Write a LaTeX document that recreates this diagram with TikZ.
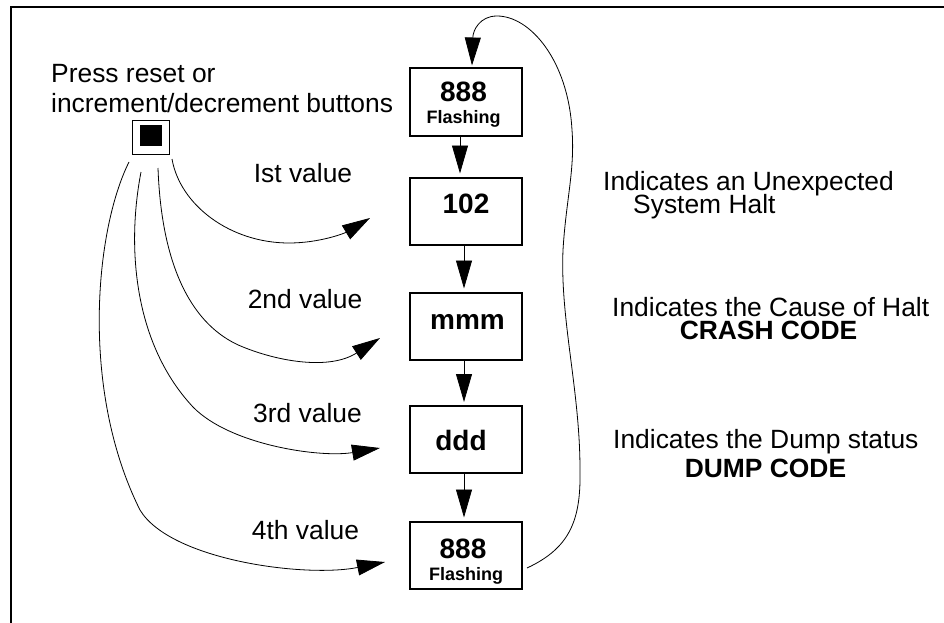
\documentclass[tikz,border=0pt]{standalone}
\usepackage{fontspec}
\setmainfont{Liberation Sans}
\usetikzlibrary{arrows.meta}
\begin{document}
\begin{tikzpicture}[x=1pt,y=-1pt,
  box/.style={draw, line width=2pt, minimum width=112pt, minimum height=67pt, inner sep=0pt},
  txt/.style={font=\fontsize{26.4}{30}\selectfont, inner sep=0pt},
  btxt/.style={font=\fontsize{26.4}{30}\selectfont\bfseries, inner sep=0pt},
  upper/.style={text depth=2pt},
  lower/.style={text height=18pt},
  num/.style={font=\fontsize{28}{30}\selectfont\bfseries, inner sep=0pt, anchor=base},
  flash/.style={font=\fontsize{18}{20}\selectfont\bfseries, inner sep=0pt, anchor=base},
  conn/.style={line width=0.8pt, -{Triangle[length=28pt,width=16pt]}},
]
\useasboundingbox (0,0) rectangle (944,623);
\fill[white] (0,0) rectangle (944,623);
% frame
\draw[line width=2pt] (944,7) -- (11,7) -- (11,623);

% button and its caption
\node[txt, anchor=base west, upper] (cap1) at (51,83) {Press reset or};
\node[txt, anchor=base west, lower] (cap2) at (51,113) {increment/decrement buttons};
\node[draw, line width=0.8pt, minimum width=37pt, minimum height=34pt, inner sep=0pt] (btn) at (151,137) {};
\node[fill=black, minimum width=22pt, minimum height=21pt, inner sep=0pt] (btnin) at (151,135.5) {};

% boxes
\node[box] (b1) at (466,102) {};
\node[box] (b2) at (466,211) {};
\node[box] (b3) at (466,326) {};
\node[box] (b4) at (466,439.5) {};
\node[box] (b5) at (466,555) {};

\node[num] (t1) at (463.5,102) {888};
\node[flash] (f1) at (463.5,124) {Flashing};
\node[num] (t2) at (466,213) {102};
\node[num] (t3) at (467.5,329) {mmm};
\node[num] (t4) at (461,450) {ddd};
\node[num] (t5) at (463,558) {888};
\node[flash] (f5) at (466,580) {Flashing};

% vertical arrows
\draw[conn, shorten >=3pt] ([xshift=-6pt]b1.south) -- ([xshift=-6pt]b2.north);
\draw[conn, shorten >=3pt] ([xshift=-2pt]b2.south) -- ([xshift=-2pt]b3.north);
\draw[conn, shorten >=3pt] ([xshift=-2pt]b3.south) -- ([xshift=-2pt]b4.north);
\draw[conn, shorten >=3pt] ([xshift=-2pt]b4.south) -- ([xshift=-2pt]b5.north);

% value labels
\node[txt, anchor=base] (v1) at (303,182) {Ist value};
\node[txt, anchor=base] (v2) at (305,308) {2nd value};
\node[txt, anchor=base] (v3) at (307.5,422) {3rd value};
\node[txt, anchor=base] (v4) at (305.5,539) {4th value};

% curves from the button
\coordinate (s1) at (172,159);
\coordinate (s2) at (158,168);
\coordinate (s3) at (141,172);
\coordinate (s4) at (129,162);
\coordinate (e1) at ([shift={(-39,7)}]b2.west);
\coordinate (e2) at ([shift={(-29,12)}]b3.west);
\coordinate (e3) at ([shift={(-29,8.5)}]b4.west);
\coordinate (e4) at ([shift={(-24,7)}]b5.west);
\draw[conn] (s1) .. controls (180,205) and (230,243) .. (289,243)
                 .. controls (320,243) and (345,233) .. (e1);
\draw[conn] (s2) .. controls (162,280) and (200,330) .. (243,347)
                 .. controls (280,362) and (330,370) .. (e2);
\draw[conn] (s3) .. controls (126,250) and (135,345) .. (193,407)
                 .. controls (230,445) and (320,458) .. (e3);
\draw[conn] (s4) .. controls (95,230) and (80,390) .. (140,510)
                 .. controls (170,560) and (305,578) .. (e4);

% return loop
\coordinate (r0) at ([shift={(4,13)}]b5.east);
\draw[conn] (r0) .. controls (570,548) and (581,520) .. (580,470)
                 .. controls (580,390) and (560,320) .. (563,250)
                 .. controls (566,200) and (575,170) .. (572,130)
                 .. controls (568,60) and (530,16) .. (497,16)
                 .. controls (480,16) and (473,30) .. ([shift={(6,-2)}]b1.north);

% right-hand descriptions
\node[txt, anchor=base west, upper] (d1a) at (603,190) {Indicates an Unexpected};
\node[txt, anchor=base west, lower] (d1b) at (633,213) {System Halt};
\node[txt, anchor=base west, upper] (d2a) at (612,316) {Indicates the Cause of Halt};
\node[btxt, anchor=base, lower] (d2b) at (768.5,339) {CRASH CODE};
\node[txt, anchor=base west, upper] (d3a) at (613,448) {Indicates the Dump status};
\node[btxt, anchor=base, lower] (d3b) at (765.5,477) {DUMP CODE};
\end{tikzpicture}
\end{document}
